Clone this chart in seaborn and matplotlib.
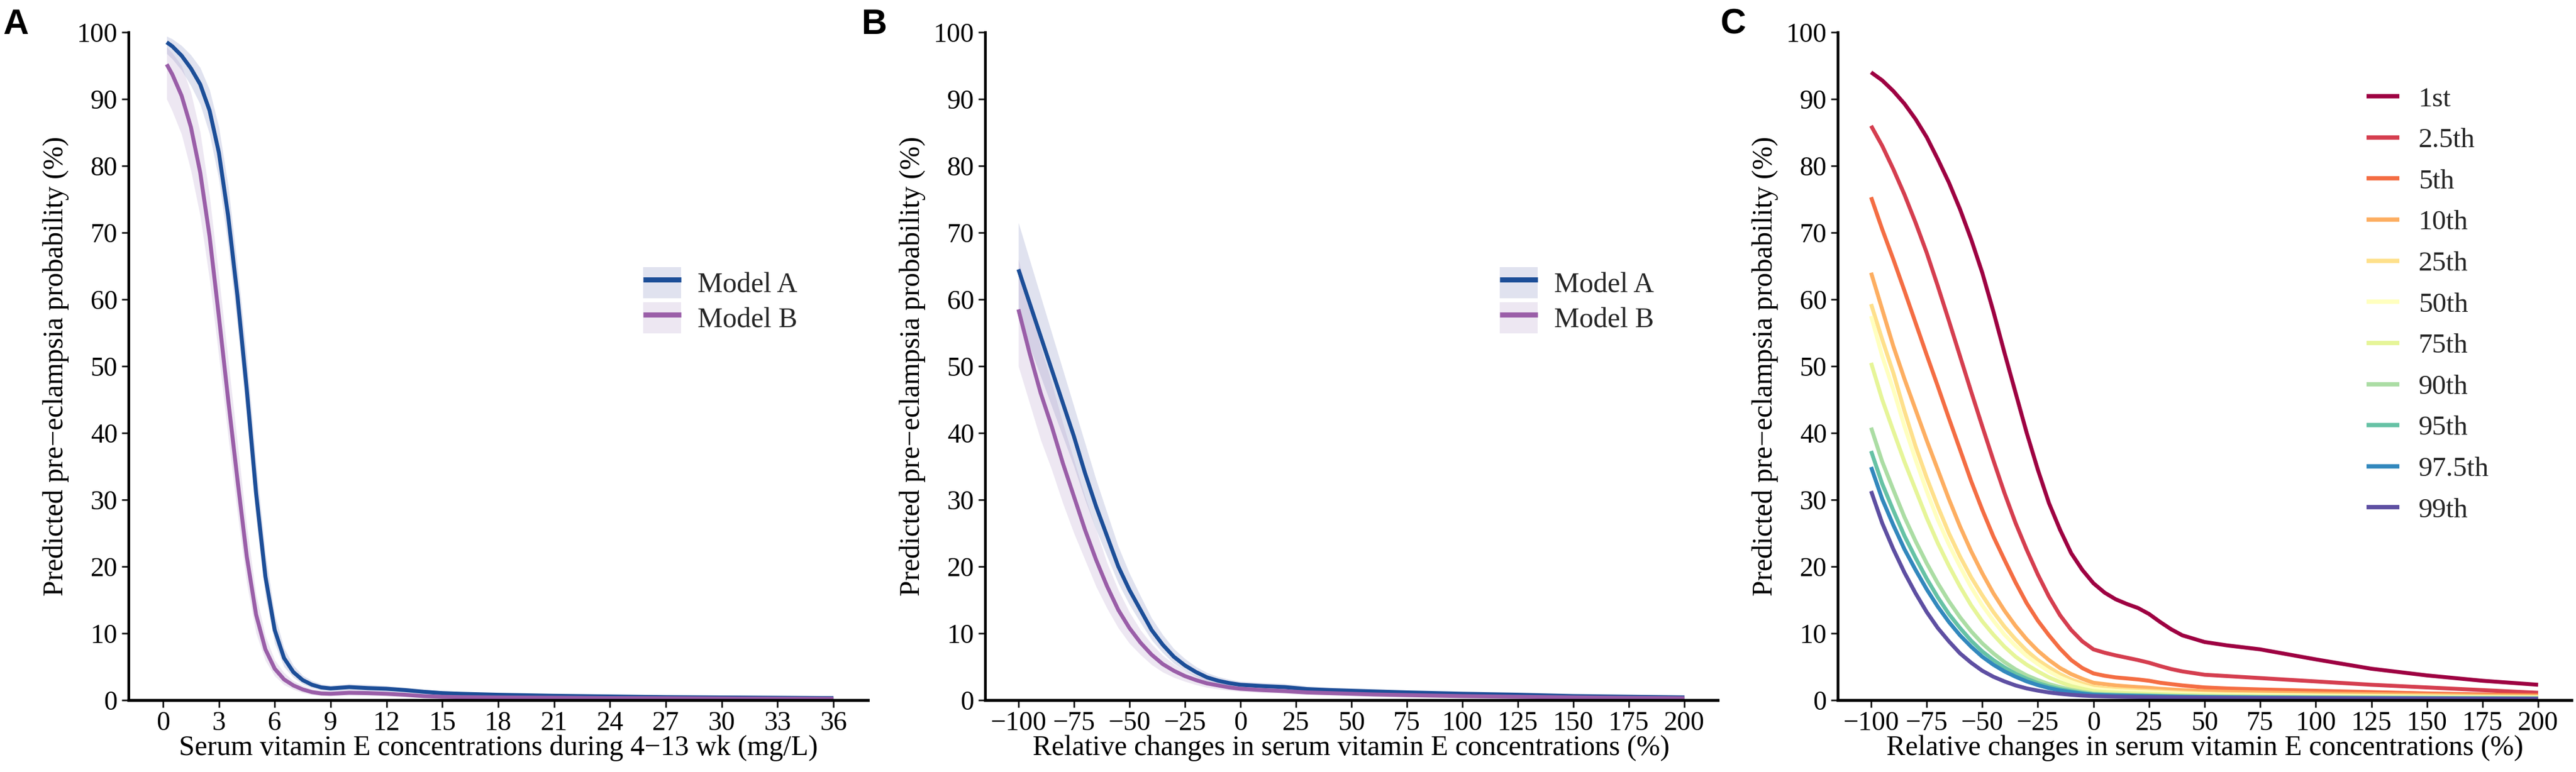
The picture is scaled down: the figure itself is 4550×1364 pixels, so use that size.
import numpy as np
import pandas as pd
import matplotlib
matplotlib.use("Agg")
import matplotlib.pyplot as plt
import seaborn as sns
from matplotlib.lines import Line2D
from matplotlib.patches import Patch

# ---------------- data ----------------
# Panel A: serum vitamin E (mg/L)
A_X = [0.2, 0.5, 1, 1.5, 2, 2.5, 3, 3.5, 4, 4.5, 5, 5.5, 6, 6.5, 7, 7.5, 8, 8.5, 9,
       10, 11, 12, 13, 14, 15, 16, 18, 21, 24, 27, 30, 33, 36]
A_MODEL_A = [98.5, 97.9, 96.5, 94.6, 92.2, 88.3, 82, 72.5, 60.5, 46.5, 31, 18.5, 10.5, 6.3, 4.2, 3.0, 2.3, 1.9, 1.75,
             1.95, 1.8, 1.7, 1.5, 1.25, 1.05, 0.95, 0.8, 0.65, 0.55, 0.45, 0.4, 0.35, 0.3]
A_MODEL_A_LO = [96.8, 96.0, 94.3, 92.0, 89.2, 84.8, 78.0, 68.0, 56.0, 42.0, 27, 15.5, 8.5, 5.0, 3.4, 2.4, 1.8, 1.5, 1.35,
                1.5, 1.4, 1.3, 1.15, 0.95, 0.8, 0.7, 0.6, 0.45, 0.38, 0.3, 0.25, 0.2, 0.15]
A_MODEL_A_HI = [99.4, 99.0, 98.0, 96.6, 94.7, 91.4, 85.8, 77.0, 65.0, 51.5, 35.5, 22, 12.8, 7.8, 5.2, 3.7, 2.9, 2.4, 2.2,
                2.45, 2.3, 2.15, 1.9, 1.6, 1.35, 1.25, 1.05, 0.9, 0.78, 0.65, 0.6, 0.55, 0.5]
A_MODEL_B = [95.2, 93.7, 90.5, 85.8, 79, 69.5, 57.5, 45, 33, 21.5, 12.8, 7.6, 4.7, 3.1, 2.2, 1.6, 1.2, 1.0, 0.95,
             1.1, 1.05, 0.95, 0.8, 0.6, 0.5, 0.45, 0.4, 0.35, 0.3, 0.28, 0.25, 0.22, 0.2]
A_MODEL_B_LO = [90, 88.2, 84.7, 79.3, 72.5, 63, 51.5, 39.5, 28, 17.5, 10, 5.9, 3.6, 2.3, 1.6, 1.1, 0.8, 0.65, 0.6,
                0.7, 0.65, 0.6, 0.5, 0.35, 0.28, 0.24, 0.2, 0.17, 0.14, 0.12, 0.1, 0.08, 0.06]
A_MODEL_B_HI = [97.8, 96.9, 95.0, 91.0, 85.0, 75.5, 63.5, 51, 38.5, 26, 15.8, 9.6, 6.0, 4.1, 2.9, 2.2, 1.7, 1.45, 1.35,
                1.55, 1.5, 1.35, 1.15, 0.9, 0.75, 0.68, 0.6, 0.55, 0.48, 0.45, 0.42, 0.38, 0.35]
A_XTICKS = [0, 3, 6, 9, 12, 15, 18, 21, 24, 27, 30, 33, 36]

# Panel B: relative change (%)
B_X = [-100, -95, -90, -85, -80, -75, -70, -65, -60, -55, -50, -45, -40, -35, -30, -25, -20, -15, -10, -5,
       0, 10, 20, 25, 30, 40, 50, 60, 75, 100, 125, 150, 175, 200]
B_MODEL_A = [64.5, 59.5, 54.5, 49.5, 44.5, 39.5, 34, 29, 24.5, 20, 16.5, 13.5, 10.5, 8.3, 6.5, 5.2, 4.2, 3.4, 2.9, 2.55,
             2.3, 2.1, 1.95, 1.8, 1.65, 1.5, 1.4, 1.3, 1.15, 0.95, 0.8, 0.6, 0.5, 0.4]
B_MODEL_A_LO = [57.5, 53, 48.5, 44, 39.5, 35, 30, 25.5, 21.5, 17.5, 14.3, 11.6, 9.0, 7.1, 5.5, 4.4, 3.5, 2.8, 2.4, 2.1,
                1.9, 1.7, 1.55, 1.45, 1.3, 1.15, 1.05, 0.95, 0.8, 0.6, 0.45, 0.3, 0.2, 0.15]
B_MODEL_A_HI = [71.5, 66, 60.5, 55, 49.5, 44, 38.5, 33, 28, 23, 19, 15.6, 12.3, 9.8, 7.7, 6.2, 5.0, 4.1, 3.5, 3.1,
                2.8, 2.6, 2.45, 2.3, 2.1, 1.95, 1.8, 1.7, 1.55, 1.35, 1.2, 1.0, 0.9, 0.8]
B_MODEL_B = [58.5, 52, 46, 41, 35.5, 30.5, 25.5, 21, 17, 13.5, 10.8, 8.6, 6.8, 5.4, 4.4, 3.6, 3.0, 2.5, 2.2, 1.9,
             1.7, 1.5, 1.35, 1.25, 1.15, 1.05, 0.95, 0.85, 0.75, 0.6, 0.5, 0.4, 0.33, 0.28]
B_MODEL_B_LO = [50, 44.5, 39, 34.5, 29.5, 25, 21, 17, 13.7, 10.8, 8.5, 6.8, 5.3, 4.2, 3.4, 2.8, 2.3, 1.9, 1.65, 1.45,
                1.3, 1.1, 1.0, 0.9, 0.85, 0.75, 0.65, 0.55, 0.45, 0.32, 0.24, 0.18, 0.13, 0.1]
B_MODEL_B_HI = [66, 59.5, 53, 47.5, 41.5, 36, 30.5, 25.5, 20.5, 16.5, 13.2, 10.5, 8.4, 6.7, 5.4, 4.4, 3.7, 3.1, 2.7, 2.35,
                2.1, 1.9, 1.75, 1.6, 1.5, 1.35, 1.25, 1.15, 1.05, 0.9, 0.8, 0.65, 0.55, 0.48]
REL_XTICKS = [-100, -75, -50, -25, 0, 25, 50, 75, 100, 125, 150, 175, 200]

# Panel C: percentiles of baseline concentration
C_X = [-100, -95, -90, -85, -80, -75, -70, -65, -60, -55, -50, -45, -40, -35, -30, -25, -20, -15, -10, -5,
       0, 5, 10, 15, 20, 25, 30, 35, 40, 50, 60, 75, 100, 125, 150, 175, 200]
C_LABELS = ["1st", "2.5th", "5th", "10th", "25th", "50th", "75th", "90th", "95th", "97.5th", "99th"]
C_P1 = [94, 92.8, 91.2, 89.3, 87, 84.3, 81, 77.5, 73.5, 69, 64, 58.2, 52, 46, 40, 34.5, 29.5, 25.5, 22, 19.5,
        17.5, 16.1, 15.1, 14.4, 13.8, 12.9, 11.7, 10.6, 9.7, 8.7, 8.2, 7.6, 6.1, 4.7, 3.7, 2.9, 2.3]
C_P2_5 = [86, 83, 79.5, 75.7, 71.5, 67, 62, 56.8, 51.5, 46.2, 41, 35.9, 31, 26.5, 22.5, 18.8, 15.5, 12.7, 10.5, 8.8,
          7.6, 7.1, 6.7, 6.35, 6.0, 5.6, 5.1, 4.65, 4.3, 3.8, 3.6, 3.3, 2.8, 2.3, 1.9, 1.5, 1.1]
C_P5 = [75.3, 70.5, 66, 61.3, 56.5, 51.7, 47, 42.2, 37.5, 32.8, 28.5, 24.5, 21, 17.6, 14.5, 11.9, 9.7, 7.7, 6.0, 4.8,
        4.0, 3.65, 3.4, 3.25, 3.1, 2.9, 2.6, 2.4, 2.2, 1.9, 1.75, 1.6, 1.4, 1.2, 1.0, 0.85, 0.75]
C_P10 = [64, 58.5, 53, 48.1, 43.5, 38.9, 34.5, 30.1, 26, 22.3, 19, 16, 13.4, 11.1, 9.1, 7.4, 6.0, 4.8, 3.9, 3.2,
         2.6, 2.4, 2.2, 2.07, 1.95, 1.85, 1.7, 1.6, 1.5, 1.35, 1.25, 1.15, 1.0, 0.9, 0.8, 0.7, 0.62]
C_P25 = [59.3, 54, 49, 43.3, 38, 33.3, 29, 25, 21.5, 18.4, 15.7, 13.2, 11, 9.1, 7.4, 6.0, 4.9, 3.9, 3.1, 2.5,
         2.0, 1.8, 1.65, 1.55, 1.45, 1.38, 1.3, 1.2, 1.12, 1.0, 0.92, 0.85, 0.75, 0.67, 0.6, 0.53, 0.47]
C_P50 = [57.5, 51.5, 46.5, 41, 36, 31.3, 27, 23.3, 20, 16.9, 14.2, 11.9, 9.8, 8.1, 6.6, 5.4, 4.3, 3.4, 2.7, 2.15,
         1.7, 1.53, 1.4, 1.32, 1.25, 1.18, 1.1, 1.03, 0.97, 0.87, 0.8, 0.74, 0.65, 0.58, 0.52, 0.46, 0.41]
C_P75 = [50.5, 45, 40.3, 35.7, 31.5, 27.3, 23.5, 20.1, 17, 14.2, 11.8, 9.8, 8.0, 6.5, 5.3, 4.3, 3.4, 2.7, 2.1, 1.7,
         1.35, 1.22, 1.12, 1.05, 1.0, 0.95, 0.9, 0.85, 0.8, 0.72, 0.66, 0.6, 0.53, 0.47, 0.42, 0.38, 0.34]
C_P90 = [40.8, 35.7, 31.5, 27.4, 23.8, 20.5, 17.5, 14.8, 12.4, 10.3, 8.5, 7.0, 5.7, 4.6, 3.7, 3.0, 2.4, 1.95, 1.55, 1.25,
         1.0, 0.92, 0.85, 0.8, 0.76, 0.72, 0.68, 0.64, 0.61, 0.56, 0.52, 0.48, 0.42, 0.38, 0.34, 0.31, 0.28]
C_P95 = [37.3, 32.4, 28.4, 24.6, 21.3, 18.2, 15.4, 12.9, 10.8, 8.9, 7.3, 6.0, 4.9, 3.95, 3.2, 2.55, 2.05, 1.65, 1.35, 1.08,
         0.88, 0.8, 0.75, 0.71, 0.68, 0.65, 0.61, 0.58, 0.55, 0.5, 0.47, 0.43, 0.38, 0.34, 0.31, 0.28, 0.25]
C_P97_5 = [34.9, 30.1, 26.2, 22.6, 19.5, 16.6, 14, 11.7, 9.7, 8.0, 6.5, 5.3, 4.3, 3.5, 2.8, 2.25, 1.8, 1.45, 1.2, 0.97,
           0.8, 0.73, 0.68, 0.65, 0.62, 0.59, 0.56, 0.53, 0.5, 0.46, 0.43, 0.39, 0.35, 0.31, 0.28, 0.25, 0.22]
C_P99 = [31.3, 26.5, 22.6, 19.1, 16, 13.2, 10.8, 8.8, 7.0, 5.6, 4.4, 3.5, 2.8, 2.2, 1.75, 1.42, 1.15, 0.95, 0.8, 0.68,
         0.6, 0.56, 0.52, 0.49, 0.47, 0.45, 0.43, 0.41, 0.39, 0.36, 0.34, 0.31, 0.28, 0.25, 0.23, 0.21, 0.2]
C_SERIES = [C_P1, C_P2_5, C_P5, C_P10, C_P25, C_P50, C_P75, C_P90, C_P95, C_P97_5, C_P99]
C_COLORS = ["#9E0142", "#D53E4F", "#F46D43", "#FDAE61", "#FEE08B", "#FFFFBF",
            "#E6F598", "#ABDDA4", "#66C2A5", "#3288BD", "#5E4FA2"]

MODELS = ["Model A", "Model B"]
YLAB = "Predicted pre\u2212eclampsia probability (%)"
XLAB_A = "Serum vitamin E concentrations during 4\u221213 wk (mg/L)"
XLAB_REL = "Relative changes in serum vitamin E concentrations (%)"

# ---------------- style ----------------
COL_A = "#1C4E98"
COL_B = "#9A5EA8"
RIB_A = "#6470B0"
RIB_B = "#A68BC0"
RIB_ALPHA = 0.2

sns.set_theme(style="ticks")
plt.rcParams["font.family"] = ["Liberation Serif", "DejaVu Serif"]
plt.rcParams["axes.unicode_minus"] = True

W, H = 4550, 1364
fig = plt.figure(figsize=(W / 100, H / 100), dpi=100)
fig.patch.set_facecolor("white")

Y0, Y100 = 1237, 57


def add_axes(x0, x1):
    return fig.add_axes([x0 / W, (H - Y0) / H, (x1 - x0) / W, (Y0 - Y100) / H])


axA = add_axes(227, 1533)
axB = add_axes(1740, 3034)
axC = add_axes(3246, 4542)


def style(ax, xlim, xticks, xlab):
    ax.set_xlim(*xlim)
    ax.set_ylim(0, 100)
    ax.set_xticks(xticks)
    ax.set_yticks(range(0, 101, 10))
    ax.set_facecolor("white")
    ax.grid(False)
    for s in ["top", "right"]:
        ax.spines[s].set_visible(False)
    ax.spines["left"].set_linewidth(3.4)
    ax.spines["bottom"].set_linewidth(3.8)
    ax.spines["left"].set_color("black")
    ax.spines["bottom"].set_color("black")
    ax.tick_params(axis="both", length=9, width=2.2, color="#222222",
                   labelsize=34.5, labelcolor="black", pad=5)
    ax.set_ylabel(YLAB, fontsize=36, color="black")
    ax.set_xlabel(xlab, fontsize=36, color="black")
    w = ax.get_position().width * W
    ax.yaxis.set_label_coords(-105 / w, 0.5)
    ax.xaxis.set_label_coords(0.5, -0.052)


def model_panel(ax, x, a, alo, ahi, b, blo, bhi, xlim, xticks, xlab):
    ax.fill_between(x, alo, ahi, color=RIB_A, alpha=RIB_ALPHA, lw=0, zorder=1)
    ax.fill_between(x, blo, bhi, color=RIB_B, alpha=RIB_ALPHA, lw=0, zorder=1)
    df = pd.DataFrame({
        "x": list(x) * 2,
        "prob": list(a) + list(b),
        "model": [MODELS[0]] * len(x) + [MODELS[1]] * len(x),
    })
    sns.lineplot(data=df, x="x", y="prob", hue="model", hue_order=MODELS,
                 palette={MODELS[0]: COL_A, MODELS[1]: COL_B}, linewidth=5,
                 estimator=None, legend=False, ax=ax)
    for ln in ax.lines:
        ln.set_solid_capstyle("butt")
        ln.set_solid_joinstyle("round")
    style(ax, xlim, xticks, xlab)
    handles = [
        (Patch(facecolor=RIB_A, alpha=RIB_ALPHA, edgecolor="none"),
         Line2D([], [], color=COL_A, lw=6.5, solid_capstyle="butt")),
        (Patch(facecolor=RIB_B, alpha=RIB_ALPHA, edgecolor="none"),
         Line2D([], [], color=COL_B, lw=6.5, solid_capstyle="butt")),
    ]
    w = ax.get_position().width * W
    ax.legend(handles, MODELS, loc="upper left",
              bbox_to_anchor=(909 / w, (Y0 - 472) / (Y0 - Y100)),
              frameon=False, fontsize=36, handlelength=1.34, handleheight=1.32,
              labelspacing=0.14, handletextpad=0.58, borderpad=0, borderaxespad=0)


for arr in (A_MODEL_A, A_MODEL_A_LO, A_MODEL_A_HI, A_MODEL_B, A_MODEL_B_LO, A_MODEL_B_HI):
    assert len(arr) == len(A_X)
for arr in (B_MODEL_A, B_MODEL_A_LO, B_MODEL_A_HI, B_MODEL_B, B_MODEL_B_LO, B_MODEL_B_HI):
    assert len(arr) == len(B_X)
for arr in C_SERIES:
    assert len(arr) == len(C_X)

model_panel(axA, A_X, A_MODEL_A, A_MODEL_A_LO, A_MODEL_A_HI, A_MODEL_B, A_MODEL_B_LO, A_MODEL_B_HI,
            (-1.85, 37.85), A_XTICKS, XLAB_A)
model_panel(axB, B_X, B_MODEL_A, B_MODEL_A_LO, B_MODEL_A_HI, B_MODEL_B, B_MODEL_B_LO, B_MODEL_B_HI,
            (-115, 215), REL_XTICKS, XLAB_REL)

# Panel C
dfc = pd.DataFrame({
    "x": [v for _ in C_LABELS for v in C_X],
    "prob": [v for s in C_SERIES for v in s],
    "pct": [lab for lab in C_LABELS for _ in C_X],
})
sns.lineplot(data=dfc, x="x", y="prob", hue="pct", hue_order=C_LABELS,
             palette=dict(zip(C_LABELS, C_COLORS)),
             linewidth=5, estimator=None, legend="full", ax=axC)
for ln in axC.lines:
    ln.set_solid_capstyle("butt")
    ln.set_solid_joinstyle("round")
style(axC, (-115, 215), REL_XTICKS, XLAB_REL)
h, l = axC.get_legend_handles_labels()
wC = axC.get_position().width * W
legC = axC.legend(h, l, loc="upper left", bbox_to_anchor=(934 / wC, (Y0 - 153) / (Y0 - Y100)),
                  frameon=False, fontsize=35.5, handlelength=1.18, handletextpad=0.68,
                  labelspacing=0.57, borderpad=0, borderaxespad=0)
for ln in legC.get_lines():
    ln.set_linewidth(5.5)
    ln.set_solid_capstyle("butt")

# panel letters
for lab, xpx in (("A", 5), ("B", 1522), ("C", 3038)):
    fig.text(xpx / W, 1 - 14 / H, lab, fontsize=45, fontweight="bold",
             family=["Liberation Sans", "DejaVu Sans"], ha="left", va="top", color="black")

fig.savefig("out.png", dpi=100, facecolor="white")
